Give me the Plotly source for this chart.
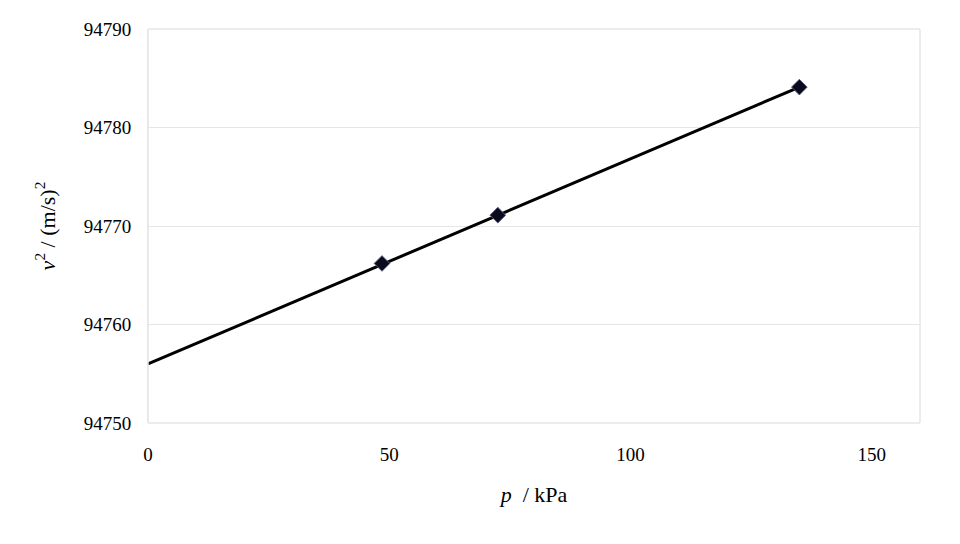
import plotly.graph_objects as go

# measured points
p_kpa = [48.5, 72.5, 135.0]
v2 = [94766.2, 94771.1, 94784.1]

# linear fit line
fit_x = [0, 135.0]
fit_y = [94756.0, 94784.1]

fig = go.Figure()
fig.add_trace(go.Scatter(x=fit_x, y=fit_y, mode='lines',
                         line=dict(color='black', width=3), showlegend=False))
fig.add_trace(go.Scatter(x=p_kpa, y=v2, mode='markers',
                         marker=dict(symbol='diamond', size=12, color='#0a0a1e',
                                     line=dict(color='#555577', width=1)),
                         showlegend=False))

fig.update_layout(
    width=960, height=544,
    paper_bgcolor='white', plot_bgcolor='white',
    margin=dict(l=140, r=48, t=11, b=129),
    font=dict(family='Liberation Serif', size=19, color='black'),
    xaxis=dict(range=[0, 160], tickvals=[0, 50, 100, 150], ticks='',
               ticklabelstandoff=18,
               showgrid=False, zeroline=False, showline=False,
               title=dict(text='<i>p</i>  / kPa', font=dict(size=22), standoff=22)),
    yaxis=dict(range=[94750, 94790], dtick=10, ticks='', tickformat='d',
               ticklabelstandoff=12,
               showgrid=True, gridcolor='#e6e6e6', gridwidth=1,
               zeroline=False, showline=True, linecolor='#e6e6e6',
               title=dict(text='<i>v</i><sup>2</sup> / (m/s)<sup>2</sup>',
                          font=dict(size=22), standoff=22)),
    shapes=[
        dict(type='rect', xref='paper', yref='paper', x0=0, x1=1, y0=0, y1=1,
             line=dict(color='#e6e6e6', width=1)),
        dict(type='rect', xref='x domain', yref='y domain', x0=0, x1=1, y0=0, y1=1,
             line=dict(color='#e6e6e6', width=1)),
    ],
)
fig.write_html("out.html")
